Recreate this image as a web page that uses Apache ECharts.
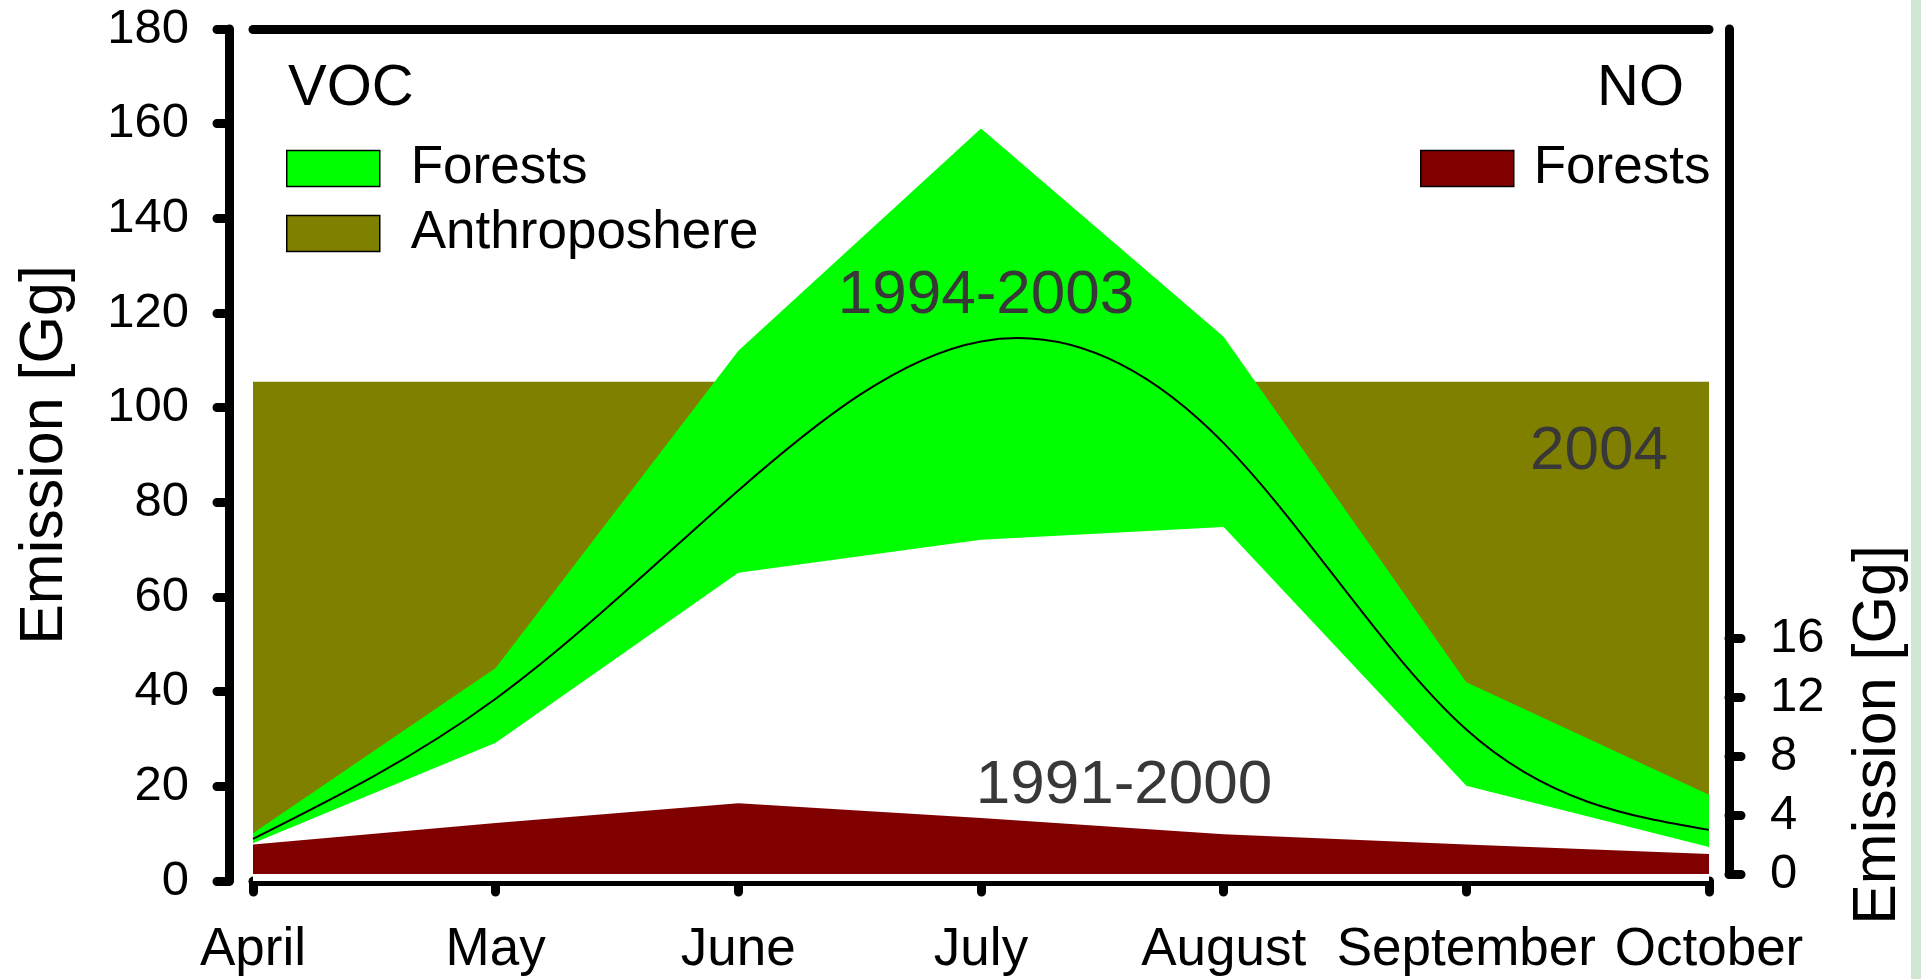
<!DOCTYPE html>
<html><head><meta charset="utf-8">
<script src="https://cdn.jsdelivr.net/npm/echarts@6/dist/echarts.min.js"></script>
<style>html,body{margin:0;padding:0;background:#fff}#c{width:1921px;height:979px}</style>
</head><body><div id="c"></div>
<script>
// ---- data ----
const months = ['April', 'May', 'June', 'July', 'August', 'September', 'October'];
const vocForestUpper = [10.1, 45, 112, 159, 115, 42, 18.2];
const vocForestLower = [8.0, 29.2, 65.1, 72.1, 74.8, 20.1, 7.2];
const vocForestMean = [8.9, 38.5, 82.5, 114, 92.5, 32, 10.8];
const vocAnthro2004 = [105.5, 105.5, 105.5, 105.5, 105.5, 105.5, 105.5];
const noForests = [2.0, 3.45, 4.8, 3.8, 2.7, 2.0, 1.35];
const rightTickValues = [0, 4, 8, 12, 16];

const FONT = '"Liberation Sans", Arial, sans-serif';
const chart = echarts.init(document.getElementById('c'), null, {renderer: 'canvas'});
const LW = 9;
function axLine() { return {show: true, lineStyle: {color: '#000', width: LW, cap: 'round'}}; }
function axTick(len, extra) { return Object.assign({show: true, inside: false, length: len, lineStyle: {color: '#000', width: LW, cap: 'round'}}, extra || {}); }

// natural cubic spline through pixel points -> SVG path
function splinePath(pts) {
  const n = pts.length - 1;
  const h = pts[1][0] - pts[0][0];
  const y = pts.map(p => p[1]);
  const M = new Array(n + 1).fill(0);
  const a = [], b = [], c = [], d = [];
  for (let i = 1; i < n; i++) { a.push(1); b.push(4); c.push(1); d.push(6 * (y[i + 1] - 2 * y[i] + y[i - 1]) / (h * h)); }
  const m = d.length;
  for (let i = 1; i < m; i++) { const w = a[i] / b[i - 1]; b[i] -= w * c[i - 1]; d[i] -= w * d[i - 1]; }
  const sol = new Array(m);
  sol[m - 1] = d[m - 1] / b[m - 1];
  for (let i = m - 2; i >= 0; i--) sol[i] = (d[i] - c[i] * sol[i + 1]) / b[i];
  for (let i = 1; i < n; i++) M[i] = sol[i - 1];
  const D = [];
  for (let i = 0; i < n; i++) D.push((y[i + 1] - y[i]) / h - h * (2 * M[i] + M[i + 1]) / 6);
  D.push((y[n] - y[n - 1]) / h + h * (M[n - 1] + 2 * M[n]) / 6);
  let s = 'M' + pts[0][0] + ' ' + pts[0][1];
  for (let i = 0; i < n; i++) {
    const x0 = pts[i][0], x1 = pts[i + 1][0];
    s += ' C' + (x0 + h / 3) + ' ' + (y[i] + D[i] * h / 3) + ' ' + (x1 - h / 3) + ' ' + (y[i + 1] - D[i + 1] * h / 3) + ' ' + x1 + ' ' + y[i + 1];
  }
  return s;
}

chart.setOption({
  animation: false,
  backgroundColor: '#fff',
  textStyle: {fontFamily: FONT},
  grid: [
    {left: 253, right: 212, top: 29, bottom: 98},
    {left: 253, right: 212, top: 29, bottom: 105}
  ],
  xAxis: [
    {type: 'category', gridIndex: 0, data: months, boundaryGap: false, position: 'bottom',
     axisLine: axLine(), axisTick: axTick(11),
     axisLabel: {color: '#000', fontSize: 53, fontFamily: FONT, margin: 43, interval: 0},
     splitLine: {show: false}},
    {type: 'category', gridIndex: 0, data: months, boundaryGap: false, position: 'top',
     axisLine: axLine(), axisTick: {show: false}, axisLabel: {show: false}, splitLine: {show: false}},
    {type: 'category', gridIndex: 1, data: months, boundaryGap: false, show: false}
  ],
  yAxis: [
    {type: 'value', gridIndex: 0, min: 0, max: 180, interval: 20, position: 'left', offset: 24,
     name: 'Emission [Gg]', nameLocation: 'middle', nameRotate: 90, nameGap: 153,
     nameTextStyle: {fontSize: 61, color: '#000', fontFamily: FONT},
     axisLine: axLine(), axisTick: axTick(12),
     axisLabel: {color: '#000', fontSize: 49, fontFamily: FONT, margin: 40}, splitLine: {show: false}},
    {type: 'value', gridIndex: 1, min: 0, max: 57.3, interval: 4, position: 'right', offset: 20,
     axisLine: axLine(),
     axisTick: axTick(12, {customValues: rightTickValues}),
     axisLabel: {color: '#000', fontSize: 49, fontFamily: FONT, margin: 41, customValues: rightTickValues},
     splitLine: {show: false}}
  ],
  legend: [
    {left: 281, top: 137, orient: 'vertical', itemWidth: 93, itemHeight: 36, itemGap: 12,
     icon: 'rect', selectedMode: false, data: ['Forests', 'Anthroposhere'],
     itemStyle: {borderColor: '#000', borderWidth: 1.5},
     textStyle: {fontSize: 53, color: '#000', fontFamily: FONT, padding: [0, 0, 0, 26]}},
    {left: 1415, top: 137, orient: 'vertical', itemWidth: 93, itemHeight: 36,
     icon: 'rect', selectedMode: false, data: ['NO Forests'],
     formatter: function () { return 'Forests'; },
     itemStyle: {borderColor: '#000', borderWidth: 1.5},
     textStyle: {fontSize: 53, color: '#000', fontFamily: FONT, padding: [0, 0, 0, 15]}}
  ],
  series: [
    {name: 'Anthroposhere', type: 'line', xAxisIndex: 0, yAxisIndex: 0, data: vocAnthro2004,
     color: '#808000', symbol: 'none', lineStyle: {width: 0}, areaStyle: {color: '#808000', opacity: 1}, z: 1},
    {name: 'Forests', type: 'line', xAxisIndex: 0, yAxisIndex: 0, data: vocForestUpper,
     color: '#00ff00', symbol: 'none', lineStyle: {width: 0}, areaStyle: {color: '#00ff00', opacity: 1}, z: 2},
    {name: 'VOC lower', type: 'line', xAxisIndex: 0, yAxisIndex: 0, data: vocForestLower,
     color: '#ffffff', symbol: 'none', lineStyle: {width: 0}, areaStyle: {color: '#ffffff', opacity: 1}, z: 3},
    {name: 'VOC mean', type: 'custom', xAxisIndex: 0, yAxisIndex: 0, z: 4,
     data: vocForestMean.map(function (v, i) { return [i, v]; }),
     encode: {x: 0, y: 1},
     renderItem: function (params, api) {
       if (params.dataIndex !== 0) return null;
       const pts = vocForestMean.map(function (v, i) { return api.coord([i, v]); });
       return {type: 'path', shape: {pathData: splinePath(pts)},
               style: {stroke: '#000', lineWidth: 2, fill: null}};
     }},
    {name: 'NO Forests', type: 'line', xAxisIndex: 2, yAxisIndex: 1, data: noForests,
     color: '#800000', symbol: 'none', lineStyle: {width: 0}, areaStyle: {color: '#800000', opacity: 1}, z: 5}
  ],
  graphic: [
    {type: 'rect', left: 1911, top: 0, shape: {width: 10, height: 979}, style: {fill: '#cfe6d5'}, silent: true, z: -10},
    {type: 'text', x: 288, y: 89, style: {text: 'VOC', fontSize: 58, fontFamily: FONT, fill: '#000', align: 'left', verticalAlign: 'middle'}, z: 100},
    {type: 'text', x: 1684, y: 89, style: {text: 'NO', fontSize: 58, fontFamily: FONT, fill: '#000', align: 'right', verticalAlign: 'middle'}, z: 100},
    {type: 'text', x: 986, y: 296, style: {text: '1994-2003', fontSize: 62, fontFamily: FONT, fill: '#383838', align: 'center', verticalAlign: 'middle'}, z: 100},
    {type: 'text', x: 1599, y: 452, style: {text: '2004', fontSize: 62, fontFamily: FONT, fill: '#383838', align: 'center', verticalAlign: 'middle'}, z: 100},
    {type: 'text', x: 1124, y: 786, style: {text: '1991-2000', fontSize: 62, fontFamily: FONT, fill: '#383838', align: 'center', verticalAlign: 'middle'}, z: 100},
    {type: 'text', x: 1878, y: 735, rotation: Math.PI / 2, style: {text: 'Emission [Gg]', fontSize: 61, fontFamily: FONT, fill: '#000', align: 'center', verticalAlign: 'middle'}, z: 100}
  ]
});
</script></body></html>
